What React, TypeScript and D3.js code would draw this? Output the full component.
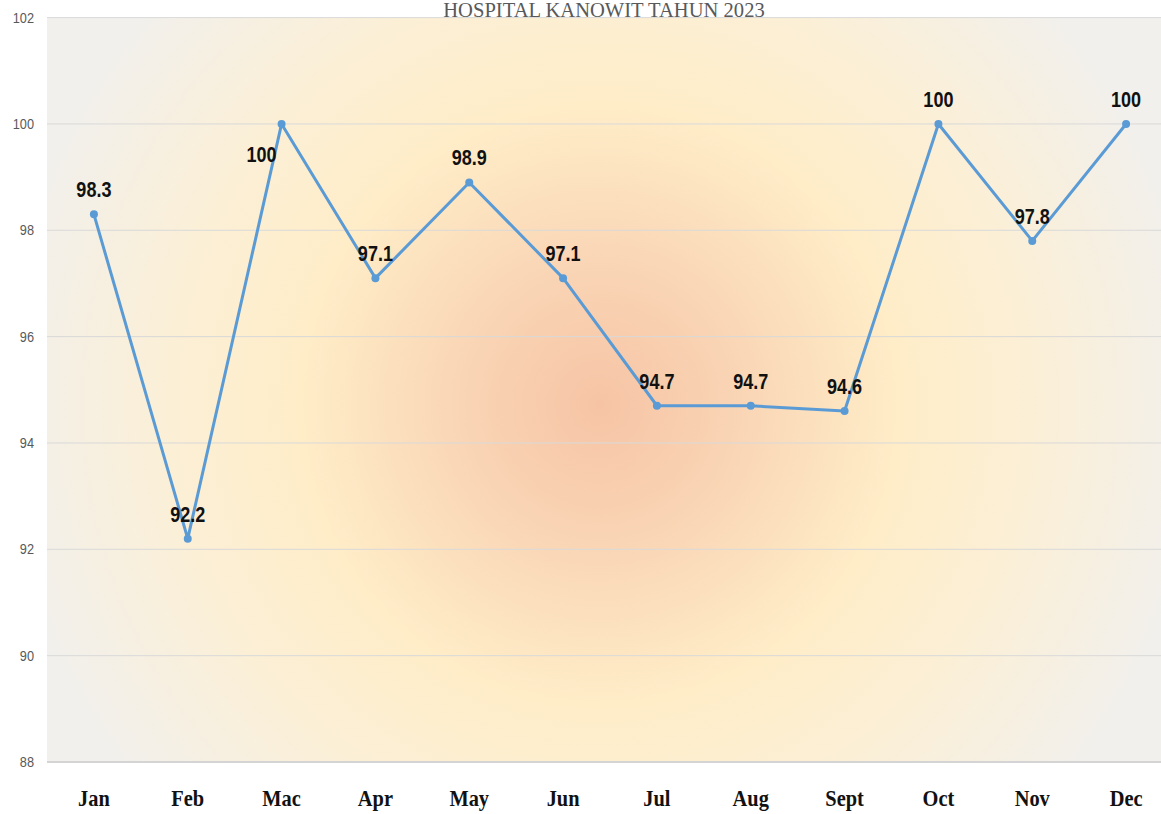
import React from "react";
import * as d3 from "d3";

const months = ["Jan", "Feb", "Mac", "Apr", "May", "Jun", "Jul", "Aug", "Sept", "Oct", "Nov", "Dec"];
const values = [98.3, 92.2, 100, 97.1, 98.9, 97.1, 94.7, 94.7, 94.6, 100, 97.8, 100];
const yTicks = [88, 90, 92, 94, 96, 98, 100, 102];
const title = "HOSPITAL KANOWIT TAHUN 2023";

const W = 1161;
const H = 814;
const plot = { left: 47, right: 1173, top: 17.6, bottom: 762 };

export default function App() {
  const x = d3.scaleBand<string>().domain(months).range([plot.left, plot.right]);
  const y = d3.scaleLinear().domain([88, 102]).range([plot.bottom, plot.top]);
  const cx = (m: string) => (x(m) as number) + x.bandwidth() / 2;
  const line = d3
    .line<number>()
    .x((_, i) => cx(months[i]))
    .y((d) => y(d));

  return (
    <svg
      width={W}
      height={H}
      style={{ position: "absolute", left: 0, top: 0, display: "block" }}
    >
      <defs>
        <radialGradient id="bg" gradientUnits="userSpaceOnUse" cx={600} cy={405} r={600}>
          <stop offset="0" stopColor="#F6C4A5" />
          <stop offset="0.22" stopColor="#F9D4B4" />
          <stop offset="0.5" stopColor="#FFEDC8" />
          <stop offset="0.72" stopColor="#FBEFD6" />
          <stop offset="1" stopColor="#F2F0EC" />
        </radialGradient>
      </defs>
      <rect x={0} y={0} width={W} height={H} fill="#ffffff" />
      <rect
        x={plot.left}
        y={plot.top}
        width={plot.right - plot.left}
        height={plot.bottom - plot.top}
        fill="url(#bg)"
      />
      {yTicks.map((t) => (
        <g key={t}>
          <line
            x1={plot.left}
            x2={plot.right}
            y1={y(t)}
            y2={y(t)}
            stroke={t === 88 ? "#D4D4D4" : "#D9D9D9"}
            strokeWidth={t === 88 ? 2 : 1}
          />
          <text
            x={34}
            y={y(t) + 5}
            textAnchor="end"
            fontFamily="Liberation Sans, Arial, sans-serif"
            fontSize={15}
            fill="#595959"
            transform={`translate(34,0) scale(0.85,1) translate(-34,0)`}
          >
            {t}
          </text>
        </g>
      ))}
      <text
        x={604}
        y={17}
        textAnchor="middle"
        fontFamily="Liberation Serif, serif"
        fontSize={21}
        fill="#595959"
        transform="translate(604,0) scale(0.98,1) translate(-604,0)"
      >
        {title}
      </text>
      <path d={line(values) || ""} fill="none" stroke="#5B9BD5" strokeWidth={3} strokeLinejoin="round" />
      {values.map((v, i) => (
        <circle key={i} cx={cx(months[i])} cy={y(v)} r={4} fill="#5B9BD5" />
      ))}
      {values.map((v, i) => {
        const lx = i === 2 ? cx(months[i]) - 20 : cx(months[i]);
        const ly = i === 2 ? y(v) + 38 : y(v) - 17;
        return (
          <text
            key={i}
            x={lx}
            y={ly}
            textAnchor="middle"
            fontFamily="Liberation Sans, Arial, sans-serif"
            fontWeight="bold"
            fontSize={22}
            fill="#111"
            transform={`translate(${lx},0) scale(0.82,1) translate(${-lx},0)`}
          >
            {v}
          </text>
        );
      })}
      {months.map((m) => (
        <text
          key={m}
          x={cx(m)}
          y={806}
          textAnchor="middle"
          fontFamily="Liberation Serif, serif"
          fontWeight="bold"
          fontSize={24}
          fill="#111"
          transform={`translate(${cx(m)},0) scale(0.85,1) translate(${-cx(m)},0)`}
        >
          {m}
        </text>
      ))}
    </svg>
  );
}
